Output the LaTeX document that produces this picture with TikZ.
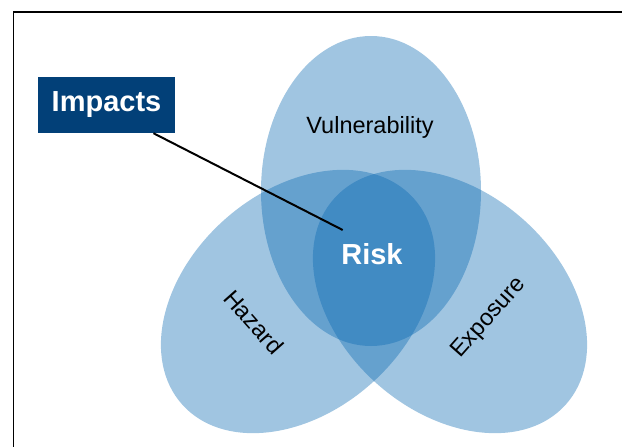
\documentclass[tikz,border=0pt]{standalone}
\usepackage{fontspec}
\setmainfont{Liberation Sans}
\definecolor{vennblue}{RGB}{5,102,176}
\definecolor{impblue}{RGB}{2,64,120}
\begin{document}
\begin{tikzpicture}[x=1pt,y=-1pt,
  venn/.style={fill=vennblue, fill opacity=0.38},
  lbl/.style={font=\fontsize{23.5}{24}\selectfont, text=black, inner sep=0pt},
  bigw/.style={font=\fontsize{29}{30}\selectfont\bfseries, text=white},
  frame/.style={line width=1.3pt, black}]
\useasboundingbox (0,0) rectangle (622,447);
% frame
\draw[frame] (13.5,447) -- (13.5,12) -- (622,12);
% ellipses
\fill[venn] (371,191) ellipse [x radius=110pt, y radius=155pt];
\fill[venn, rotate around={41.5:(298,301.5)}] (298,301.5) ellipse [x radius=155pt, y radius=110pt];
\fill[venn, rotate around={-41.5:(450,301.5)}] (450,301.5) ellipse [x radius=155pt, y radius=110pt];
% labels
\node[lbl, anchor=base] (vul) at (370,133) {Vulnerability};
\node[lbl, rotate=-48.5] (haz) at (254,322) {Hazard};
\node[lbl, rotate=48.5] (exp) at (489,318) {Exposure};
\node[bigw, inner sep=0pt] (risk) at (372,254) {Risk};
% impacts
\node[bigw, fill=impblue, minimum width=137pt, minimum height=56pt, inner sep=0pt] (imp) at (106.5,105) {Impacts};
\coordinate (riskpt) at (342.7,230);
\draw[line width=2pt, black] (imp.-31) -- (riskpt);
\end{tikzpicture}
\end{document}
